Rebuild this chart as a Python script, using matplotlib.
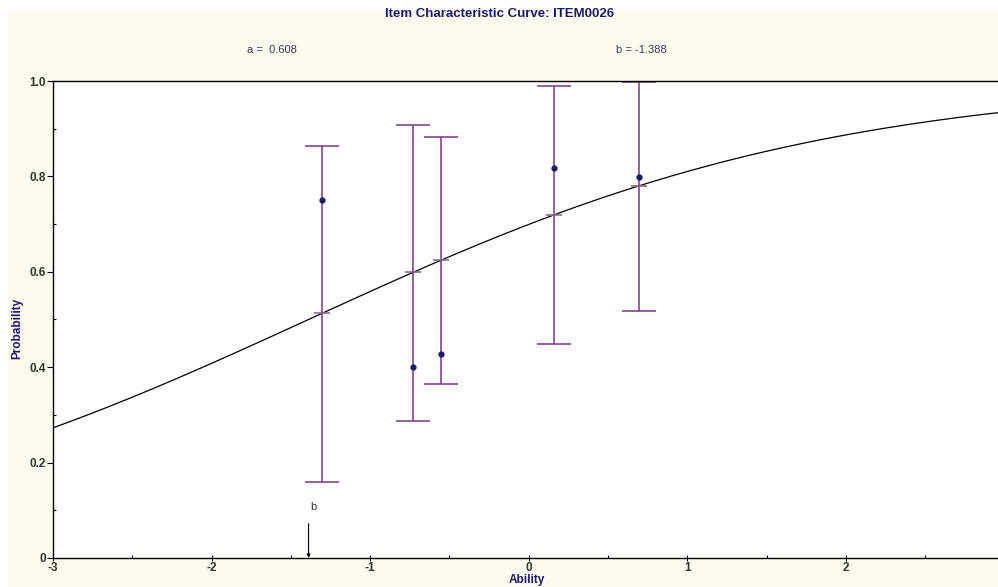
import numpy as np
import matplotlib
matplotlib.use("Agg")
import matplotlib.pyplot as plt
from matplotlib.patches import Rectangle
from matplotlib.ticker import MultipleLocator

# item parameters shown in the header
item_name = "ITEM0026"
a_param = 0.608
b_param = -1.388

# ability groups: observed proportion with interval
group_theta = [-1.304, -0.731, -0.555, 0.159, 0.696]
group_obs = [0.750, 0.400, 0.428, 0.818, 0.799]
group_low = [0.160, 0.287, 0.364, 0.448, 0.518]
group_high = [0.864, 0.907, 0.882, 0.989, 0.998]

x_ticks = [-3, -2, -1, 0, 1, 2]
x_labels = ["-3", "-2", "-1", "0", "1", "2"]
y_ticks = [0, 0.2, 0.4, 0.6, 0.8, 1.0]
y_labels = ["0", "0.2", "0.4", "0.6", "0.8", "1.0"]

navy = "#1c1a6e"
purple = "#82468c"
cream = "#fcf9ee"
FONT = ["Liberation Sans", "DejaVu Sans"]


def icc(theta):
    # 2PL logistic, no scaling constant
    return 1.0 / (1.0 + np.exp(-a_param * (np.asarray(theta) - b_param)))


fig = plt.figure(figsize=(9.98, 5.87), dpi=100, facecolor="white")

# cream panel behind everything
fig.patches.append(Rectangle((8 / 998, 0), 1 - 8 / 998, 1 - 11 / 587,
                             transform=fig.transFigure, facecolor=cream,
                             edgecolor="none", zorder=-10))

ax = fig.add_axes([53 / 998, 29 / 587, 1 - 53 / 998, (558 - 81) / 587])
ax.set_facecolor("white")

xmin, xmax = -3, 2.96
ax.set_xlim(xmin, xmax)
ax.set_ylim(0, 1.0)

# model curve
xs = np.linspace(xmin, xmax, 300)
ax.plot(xs, icc(xs), color="black", lw=0.9, zorder=3)

# error bars for the ability groups
yerr = [np.array(group_obs) - np.array(group_low),
        np.array(group_high) - np.array(group_obs)]
ax.errorbar(group_theta, group_obs, yerr=yerr, fmt="none", ecolor=purple,
            elinewidth=1.2, capsize=12.5, capthick=1.2, zorder=2)
ax.plot(group_theta, group_obs, "o", color=navy, markersize=3.5, zorder=4)

# marks where each group sits on the curve
ax.plot(group_theta, icc(group_theta), "_", color="#8a6a90",
        markersize=11, mew=1.2, zorder=4)

# location of b
ax.annotate("", xy=(b_param, 0), xytext=(b_param, 0.072),
            arrowprops=dict(arrowstyle="-|>", color="black", lw=0.8,
                            mutation_scale=5, shrinkA=0, shrinkB=0))
ax.text(b_param + 0.03, 0.107, "b", ha="center", va="center", fontsize=8,
        color="#333333", family=FONT)

# axes styling
for side in ["left", "bottom", "top"]:
    ax.spines[side].set_linewidth(1.0)
    ax.spines[side].set_color("black")
ax.spines["right"].set_visible(False)

ax.set_xticks(x_ticks)
ax.set_xticklabels(x_labels)
ax.set_yticks(y_ticks)
ax.set_yticklabels(y_labels)
ax.xaxis.set_minor_locator(MultipleLocator(0.5))
ax.yaxis.set_minor_locator(MultipleLocator(0.1))
ax.tick_params(axis="x", which="major", direction="inout", length=4,
               width=0.8, pad=1)
ax.tick_params(axis="x", which="minor", direction="in", length=2, width=0.8)
ax.tick_params(axis="y", which="major", direction="out", length=4,
               width=0.8, pad=1)
ax.tick_params(axis="y", which="minor", direction="in", length=2, width=0.8)
for lab in ax.get_xticklabels() + ax.get_yticklabels():
    lab.set_fontsize(8.5)
    lab.set_fontweight("bold")
    lab.set_color("#333333")
    lab.set_family(FONT)

# header texts
fig.text(500 / 998, 1 - 14 / 587, "Item Characteristic Curve: " + item_name,
         ha="center", va="center", fontsize=9.5, fontweight="bold",
         color=navy, family=FONT)
fig.text(272 / 998, 1 - 50 / 587, "a =  %.3f" % a_param, ha="center",
         va="center", fontsize=8, color="#3a3a5a", family=FONT)
fig.text(641 / 998, 1 - 50 / 587, "b = %.3f" % b_param, ha="center",
         va="center", fontsize=8, color="#3a3a5a", family=FONT)

# axis titles
fig.text(17 / 998, 1 - 328 / 587, "Probability", rotation=90, ha="center",
         va="center", fontsize=8.5, fontweight="bold", color=navy,
         family=FONT)
fig.text(527 / 998, 1.5 / 587, "Ability", ha="center", va="bottom",
         fontsize=8.5, fontweight="bold", color=navy, family=FONT)

fig.savefig("out.png", dpi=100, facecolor=fig.get_facecolor())
